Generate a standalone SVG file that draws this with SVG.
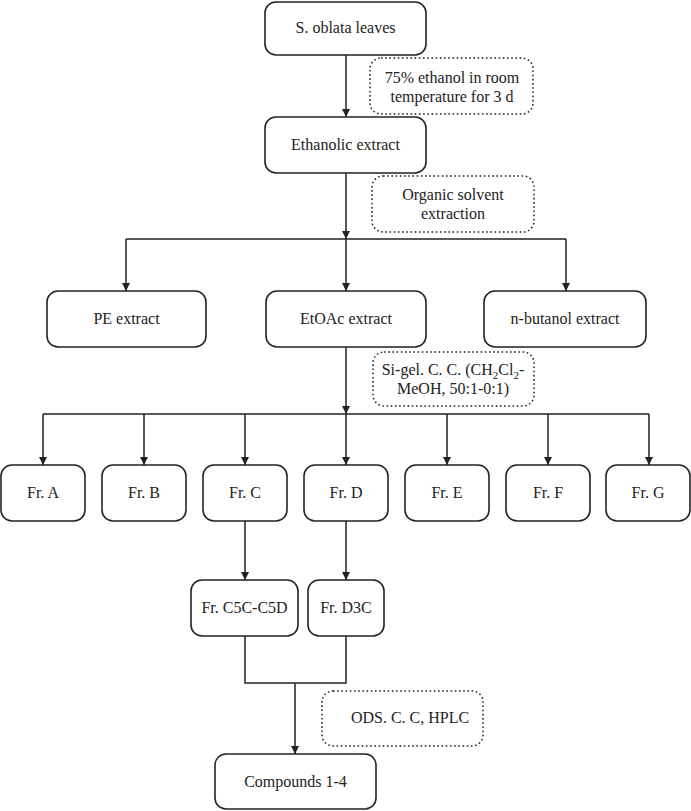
<svg xmlns="http://www.w3.org/2000/svg" width="691" height="811" viewBox="0 0 691 811">
<defs>
<marker id="ah" markerWidth="8" markerHeight="10" refX="8" refY="4" orient="auto" markerUnits="userSpaceOnUse">
<path d="M0,0 L8,4 L0,8 Z" fill="#222"/>
</marker>
<style>
.box{fill:#fff;stroke:#222;stroke-width:1.6}
.dot{fill:#fff;stroke:#222;stroke-width:1.5;stroke-dasharray:1.6 2.6}
.t{font-family:"Liberation Serif","Times New Roman",serif;font-size:16px;fill:#222;text-anchor:middle}
.c{fill:none;stroke:#222;stroke-width:1.5}
</style>
</defs>
<rect width="691" height="811" fill="#fff"/>
<g id="connectors">
<line class="c" x1="346" y1="55" x2="346" y2="117" marker-end="url(#ah)"/>
<line class="c" x1="346" y1="173" x2="346" y2="239" marker-end="url(#ah)"/>
<line class="c" x1="126" y1="239" x2="566" y2="239"/>
<line class="c" x1="126" y1="239" x2="126" y2="291" marker-end="url(#ah)"/>
<line class="c" x1="346" y1="239" x2="346" y2="291" marker-end="url(#ah)"/>
<line class="c" x1="566" y1="239" x2="566" y2="291" marker-end="url(#ah)"/>
<line class="c" x1="346" y1="347" x2="346" y2="414" marker-end="url(#ah)"/>
<line class="c" x1="43" y1="414" x2="649" y2="414"/>
<line class="c" x1="43" y1="414" x2="43" y2="465" marker-end="url(#ah)"/>
<line class="c" x1="144" y1="414" x2="144" y2="465" marker-end="url(#ah)"/>
<line class="c" x1="245" y1="414" x2="245" y2="465" marker-end="url(#ah)"/>
<line class="c" x1="346" y1="414" x2="346" y2="465" marker-end="url(#ah)"/>
<line class="c" x1="447" y1="414" x2="447" y2="465" marker-end="url(#ah)"/>
<line class="c" x1="548" y1="414" x2="548" y2="465" marker-end="url(#ah)"/>
<line class="c" x1="649" y1="414" x2="649" y2="465" marker-end="url(#ah)"/>
<line class="c" x1="245" y1="521" x2="245" y2="580" marker-end="url(#ah)"/>
<line class="c" x1="346" y1="521" x2="346" y2="580" marker-end="url(#ah)"/>
<polyline class="c" points="245,636 245,683 346,683 346,636"/>
<line class="c" x1="295" y1="683" x2="295" y2="754" marker-end="url(#ah)"/>
</g>
<g id="n-leaves"><rect class="box" x="265" y="2" width="161" height="53" rx="11"/><text class="t" x="345.5" y="33">S. oblata leaves</text></g>
<g id="n-cond1"><rect class="dot" x="370" y="58" width="163" height="56" rx="11"/><text class="t" x="452" y="83">75% ethanol in room</text><text class="t" x="452" y="102">temperature for 3 d</text></g>
<g id="n-ethanolic"><rect class="box" x="265" y="117" width="161" height="56" rx="11"/><text class="t" x="345.5" y="150">Ethanolic extract</text></g>
<g id="n-cond2"><rect class="dot" x="372" y="176" width="162" height="56" rx="11"/><text class="t" x="453" y="200">Organic solvent</text><text class="t" x="453" y="219">extraction</text></g>
<g id="n-pe"><rect class="box" x="47" y="291" width="159" height="56" rx="11"/><text class="t" x="126.5" y="324">PE extract</text></g>
<g id="n-etoac"><rect class="box" x="266" y="291" width="160" height="56" rx="11"/><text class="t" x="346" y="324">EtOAc extract</text></g>
<g id="n-butanol"><rect class="box" x="484" y="291" width="162" height="56" rx="11"/><text class="t" x="565" y="324">n-butanol extract</text></g>
<g id="n-cond3"><rect class="dot" x="373" y="352" width="161" height="54" rx="11"/><text class="t" x="453" y="375">Si-gel. C. C. (CH<tspan dy="4" font-size="11">2</tspan><tspan dy="-4">Cl</tspan><tspan dy="4" font-size="11">2</tspan><tspan dy="-4">-</tspan></text><text class="t" x="453" y="394">MeOH, 50:1-0:1)</text></g>
<g id="n-frA"><rect class="box" x="1" y="465" width="84" height="56" rx="11"/><text class="t" x="43" y="498">Fr. A</text></g>
<g id="n-frB"><rect class="box" x="102" y="465" width="84" height="56" rx="11"/><text class="t" x="144" y="498">Fr. B</text></g>
<g id="n-frC"><rect class="box" x="203" y="465" width="84" height="56" rx="11"/><text class="t" x="245" y="498">Fr. C</text></g>
<g id="n-frD"><rect class="box" x="304" y="465" width="84" height="56" rx="11"/><text class="t" x="346" y="498">Fr. D</text></g>
<g id="n-frE"><rect class="box" x="405" y="465" width="84" height="56" rx="11"/><text class="t" x="447" y="498">Fr. E</text></g>
<g id="n-frF"><rect class="box" x="506" y="465" width="84" height="56" rx="11"/><text class="t" x="548" y="498">Fr. F</text></g>
<g id="n-frG"><rect class="box" x="606" y="465" width="84" height="56" rx="11"/><text class="t" x="648" y="498">Fr. G</text></g>
<g id="n-c5c"><rect class="box" x="191" y="580" width="107" height="56" rx="11"/><text class="t" x="244.5" y="613">Fr. C5C-C5D</text></g>
<g id="n-d3c"><rect class="box" x="308" y="580" width="76" height="56" rx="11"/><text class="t" x="346" y="613">Fr. D3C</text></g>
<g id="n-cond4"><rect class="dot" x="322" y="691" width="161" height="55" rx="11"/><text class="t" x="410" y="723">ODS. C. C, HPLC</text></g>
<g id="n-compounds"><rect class="box" x="215" y="754" width="161" height="55" rx="11"/><text class="t" x="295.5" y="787">Compounds 1-4</text></g>
</svg>
